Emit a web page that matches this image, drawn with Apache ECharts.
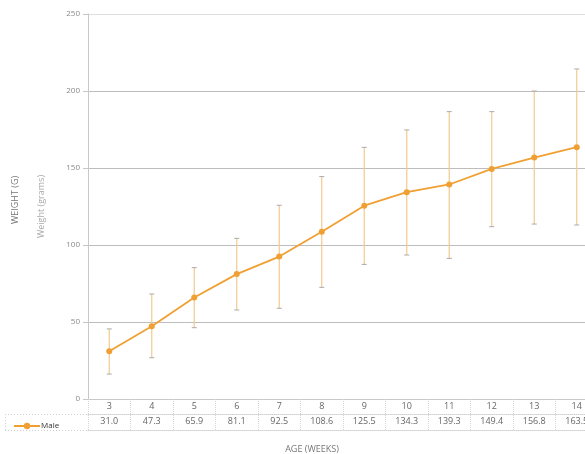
<!DOCTYPE html>
<html><head><meta charset="utf-8">
<script src="https://cdn.jsdelivr.net/npm/echarts@6/dist/echarts.min.js"></script>
<style>html,body{margin:0;padding:0;background:#fff;overflow:hidden}#c{width:598px;height:454px}</style>
</head><body><div id="c"></div>
<script>
var weeks = ['3','4','5','6','7','8','9','10','11','12','13','14'];
var maleMean = [31.0, 47.3, 65.9, 81.1, 92.5, 108.6, 125.5, 134.3, 139.3, 149.4, 156.8, 163.5];
var maleUpper = [45.5, 68.2, 85.3, 104.3, 125.8, 144.4, 163.4, 174.7, 186.6, 186.6, 200.0, 214.3];
var maleLower = [16.2, 26.8, 46.3, 57.8, 58.9, 72.5, 87.4, 93.5, 91.3, 111.9, 113.6, 113.0];
var yTicks = [0, 50, 100, 150, 200, 250];

var chart = echarts.init(document.getElementById('c'));
var font = 'Open Sans';
var errData = weeks.map(function (w, i) { return [i, maleLower[i], maleUpper[i]]; });

chart.setOption({
  animation: false,
  textStyle: { fontFamily: font },
  grid: { left: 88, right: 0, top: 14, bottom: 55, containLabel: false },
  legend: {
    left: 8, top: 417, itemWidth: 26, itemHeight: 8, itemGap: 4,
    textStyle: { fontSize: 8, color: '#333', fontFamily: font, padding: [0, 0, 0, -4] },
    data: ['Male']
  },
  xAxis: [
    {
      type: 'category', data: weeks, position: 'bottom',
      axisLine: { show: true, lineStyle: { color: '#c8c8c8', width: 1 } },
      axisTick: { show: true, interval: 0, length: 31, lineStyle: { color: '#d6d6d6', type: 'dotted' } },
      axisLabel: { margin: 3, fontSize: 9, color: '#666', fontFamily: font },
      splitLine: { show: false }
    },
    {
      type: 'category', data: weeks, position: 'bottom', offset: 15,
      axisLine: { show: true, lineStyle: { color: '#d0d0d0', type: 'dotted' } },
      axisTick: { show: false },
      axisLabel: { margin: 3, fontSize: 9, color: '#666', fontFamily: font,
        formatter: function (v, i) { return maleMean[i].toFixed(1); } }
    },
    {
      type: 'category', data: weeks, position: 'bottom', offset: 31,
      axisLine: { show: true, lineStyle: { color: '#d0d0d0', type: 'dotted' } },
      axisTick: { show: false }, axisLabel: { show: false }
    }
  ],
  yAxis: {
    type: 'value', min: yTicks[0], max: yTicks[yTicks.length - 1], interval: 50,
    name: 'Weight (grams)', nameLocation: 'middle', nameGap: 42,
    nameTextStyle: { fontSize: 9, color: '#aaa', fontFamily: font },
    axisLine: { show: true, lineStyle: { color: '#c8c8c8' } },
    axisTick: { show: true, length: 5, lineStyle: { color: '#c8c8c8' } },
    axisLabel: { fontSize: 8, color: '#888', margin: 8, fontFamily: font },
    splitLine: { show: true, lineStyle: { color: ['#c8c8c8', '#bdbdbd', '#bdbdbd', '#bdbdbd', '#bdbdbd', '#dedede'], width: 1 } }
  },
  series: [
    {
      type: 'custom', name: 'err', xAxisIndex: 0, z: 1,
      data: errData,
      renderItem: function (params, api) {
        var x = api.value(0);
        var lo = api.coord([x, api.value(1)]);
        var hi = api.coord([x, api.value(2)]);
        var cap = 2.5;
        return {
          type: 'group',
          children: [
            { type: 'line', shape: { x1: lo[0], y1: lo[1], x2: hi[0], y2: hi[1] },
              style: { stroke: '#f3c98e', lineWidth: 1.2 } },
            { type: 'line', shape: { x1: hi[0] - cap, y1: hi[1], x2: hi[0] + cap, y2: hi[1] },
              style: { stroke: '#aaa', lineWidth: 1 } },
            { type: 'line', shape: { x1: lo[0] - cap, y1: lo[1], x2: lo[0] + cap, y2: lo[1] },
              style: { stroke: '#aaa', lineWidth: 1 } }
          ]
        };
      }
    },
    {
      type: 'line', name: 'Male', data: maleMean, xAxisIndex: 0, z: 3,
      symbol: 'circle', symbolSize: 6,
      itemStyle: { color: '#f0a032' },
      lineStyle: { color: '#f0a032', width: 1.8 }
    }
  ],
  graphic: [
    { type: 'line', shape: { x1: 5, y1: 414.5, x2: 88, y2: 414.5 }, style: { stroke: '#d0d0d0', lineDash: [1, 2] } },
    { type: 'line', shape: { x1: 5, y1: 430.5, x2: 88, y2: 430.5 }, style: { stroke: '#d0d0d0', lineDash: [1, 2] } },
    { type: 'line', shape: { x1: 5.5, y1: 414, x2: 5.5, y2: 430 }, style: { stroke: '#d0d0d0', lineDash: [1, 2] } },
    { type: 'text', x: 15, y: 200, rotation: Math.PI / 2,
      style: { text: 'WEIGHT (G)', fontSize: 9, fill: '#777', fontFamily: font, align: 'center', verticalAlign: 'middle' } },
    { type: 'text', x: 312, y: 449,
      style: { text: 'AGE (WEEKS)', fontSize: 9, fill: '#777', fontFamily: font, align: 'center', verticalAlign: 'middle' } }
  ]
});
</script>
</body></html>
